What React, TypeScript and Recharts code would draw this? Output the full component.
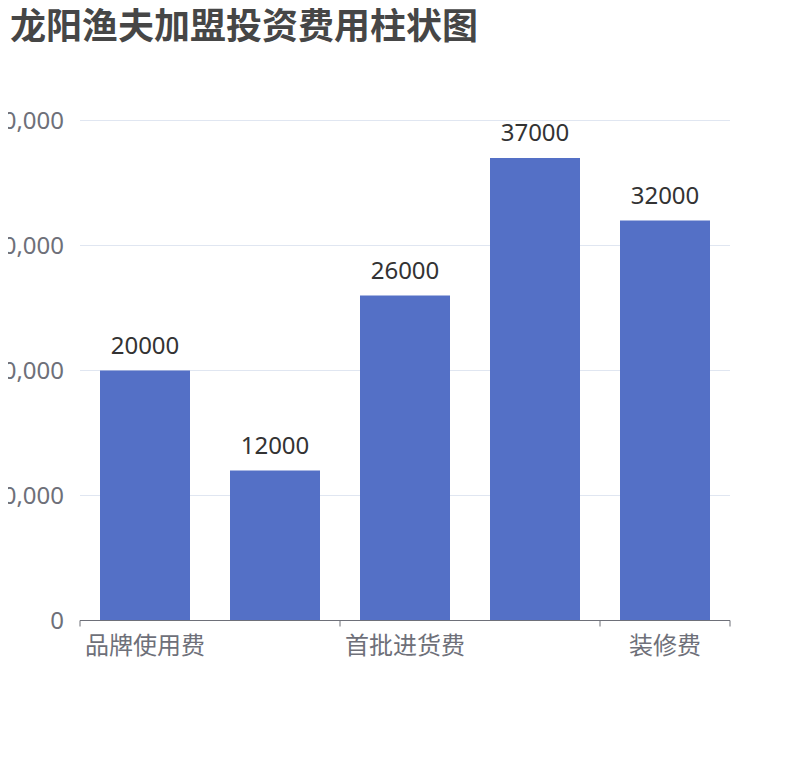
import React from "react";
import { BarChart, Bar, XAxis, YAxis, CartesianGrid, LabelList } from "recharts";

const categories = ["品牌使用费", "保证金", "首批进货费", "设备购置费", "装修费"];
const costs = [20000, 12000, 26000, 37000, 32000];
const yTicks = [0, 10000, 20000, 30000, 40000];

const chartData = categories.map((name, i) => ({ name, cost: costs[i] }));

const W = 810;
const H = 760;
const M = { top: 120.5, right: 80, bottom: 109.5, left: 0 };
const Y_WIDTH = 80;
const band = (W - M.left - M.right - Y_WIDTH) / categories.length;

const FONT = "'Noto Sans', 'Noto Sans CJK SC', sans-serif";
const AXIS = "#6E7079";

// only every other category is labelled, ticks sit on band boundaries
function XTick(props: any) {
  const { x, y, index } = props;
  if (index % 2 !== 0) return null;
  const last = index === categories.length - 1;
  return (
    <g>
      <line x1={x - band / 2} x2={x - band / 2} y1={y} y2={y + 6} stroke={AXIS} />
      {last && <line x1={x + band / 2} x2={x + band / 2} y1={y} y2={y + 6} stroke={AXIS} />}
      <text x={x} y={y + 33} textAnchor="middle" fill={AXIS} fontSize={24} style={{ fontFamily: FONT }}>
        {props.payload.value}
      </text>
    </g>
  );
}

function YTick(props: any) {
  const { y, payload } = props;
  return (
    <text
      x={Y_WIDTH - 16}
      y={y}
      dy={8}
      textAnchor="end"
      fill={AXIS}
      fontSize={24}
      style={{ fontFamily: FONT }}
    >
      {Number(payload.value).toLocaleString("en-US")}
    </text>
  );
}

export default function App() {
  return (
    <div style={{ position: "relative", width: W, height: H, margin: -8, background: "#fff" }}>
      <div
        style={{
          position: "absolute",
          left: 10,
          top: 6,
          fontSize: 36,
          lineHeight: "40px",
          fontWeight: 700,
          color: "#464646",
          fontFamily: FONT,
          zIndex: 1,
        }}
      >
        龙阳渔夫加盟投资费用柱状图
      </div>
      <BarChart width={W} height={H} data={chartData} margin={M}>
        <CartesianGrid vertical={false} stroke="#E0E6F1" />
        <XAxis
          dataKey="name"
          height={30}
          interval={0}
          tickSize={0}
          tickMargin={0}
          tickLine={false}
          axisLine={{ stroke: AXIS }}
          tick={<XTick />}
        />
        <YAxis
          width={Y_WIDTH}
          domain={[0, 40000]}
          ticks={yTicks}
          axisLine={false}
          tickLine={false}
          tickSize={0}
          tick={<YTick />}
        />
        <Bar dataKey="cost" fill="#5470C6" barSize={90} isAnimationActive={false}>
          <LabelList
            dataKey="cost"
            position="top"
            offset={17}
            fill="#333"
            fontSize={24}
            style={{ fontFamily: FONT }}
          />
        </Bar>
      </BarChart>
    </div>
  );
}
